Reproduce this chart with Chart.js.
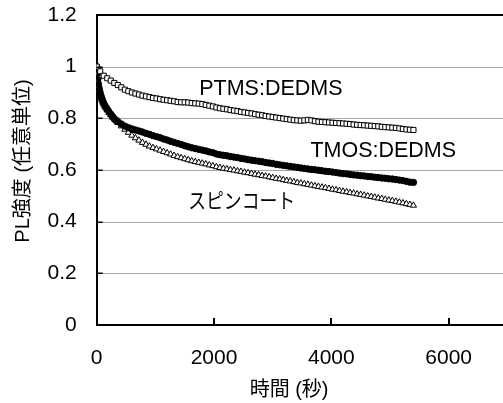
<!DOCTYPE html>
<html>
<head>
<meta charset="utf-8">
<script src="https://cdn.jsdelivr.net/npm/chart.js@4/dist/chart.umd.min.js"></script>
<style>
  html, body { margin: 0; padding: 0; background: #fff; overflow: hidden; }
  #wrap { width: 520px; height: 403px; }
</style>
</head>
<body>
<div id="wrap"><canvas id="plCanvas" width="520" height="403"></canvas></div>
<script>
// time in seconds (PTMS sampled every 60 s)
var times = [
  0,60,120,180,240,300,360,420,480,540,
  600,660,720,780,840,900,960,1020,1080,1140,
  1200,1260,1320,1380,1440,1500,1560,1620,1680,1740,
  1800,1860,1920,1980,2040,2100,2160,2220,2280,2340,
  2400,2460,2520,2580,2640,2700,2760,2820,2880,2940,
  3000,3060,3120,3180,3240,3300,3360,3420,3480,3540,
  3600,3660,3720,3780,3840,3900,3960,4020,4080,4140,
  4200,4260,4320,4380,4440,4500,4560,4620,4680,4740,
  4800,4860,4920,4980,5040,5100,5160,5220,5280,5340,
  5400
];

// TMOS and spin coat: denser at the start
var timesFast = [
  0,10,20,30,40,50,60,75,90,105,
  120,140,160,180,210,240,270,300,330,360,
  420,480,540,
  600,660,720,780,840,900,960,1020,1080,1140,
  1200,1260,1320,1380,1440,1500,1560,1620,1680,1740,
  1800,1860,1920,1980,2040,2100,2160,2220,2280,2340,
  2400,2460,2520,2580,2640,2700,2760,2820,2880,2940,
  3000,3060,3120,3180,3240,3300,3360,3420,3480,3540,
  3600,3660,3720,3780,3840,3900,3960,4020,4080,4140,
  4200,4260,4320,4380,4440,4500,4560,4620,4680,4740,
  4800,4860,4920,4980,5040,5100,5160,5220,5280,5340,
  5400
];

var ptms = [
  1.000,0.982,0.965,0.955,0.946,0.937,0.929,0.920,0.911,0.905,
  0.900,0.896,0.892,0.888,0.885,0.882,0.879,0.877,0.874,0.872,
  0.870,0.868,0.866,0.863,0.862,0.862,0.861,0.859,0.858,0.857,
  0.855,0.852,0.849,0.846,0.842,0.839,0.837,0.835,0.832,0.830,
  0.828,0.825,0.823,0.821,0.819,0.816,0.814,0.812,0.809,0.807,
  0.805,0.803,0.801,0.799,0.797,0.795,0.793,0.792,0.791,0.792,
  0.794,0.792,0.789,0.787,0.786,0.785,0.784,0.783,0.782,0.781,
  0.780,0.779,0.778,0.776,0.775,0.774,0.773,0.772,0.771,0.770,
  0.769,0.767,0.766,0.765,0.764,0.763,0.761,0.759,0.757,0.756,
  0.755
];

var tmos = [
  1.000,0.975,0.950,0.932,0.918,0.906,0.897,0.886,0.876,0.866,
  0.858,0.849,0.842,0.835,0.825,0.816,0.807,0.799,0.793,0.787,
  0.778,0.770,0.764,
  0.759,0.755,0.751,0.747,0.742,0.738,0.733,0.729,0.725,0.720,
  0.716,0.711,0.707,0.703,0.699,0.694,0.690,0.686,0.683,0.680,
  0.677,0.674,0.670,0.667,0.662,0.659,0.657,0.655,0.652,0.650,
  0.648,0.645,0.643,0.640,0.638,0.636,0.634,0.632,0.629,0.627,
  0.625,0.622,0.620,0.618,0.616,0.614,0.612,0.610,0.608,0.606,
  0.604,0.602,0.601,0.599,0.597,0.595,0.594,0.592,0.590,0.588,
  0.586,0.585,0.583,0.581,0.580,0.578,0.577,0.575,0.574,0.572,
  0.571,0.569,0.568,0.566,0.565,0.563,0.561,0.559,0.556,0.553,
  0.552
];

var spin = [
  1.000,0.972,0.945,0.925,0.910,0.898,0.889,0.878,0.870,0.862,
  0.855,0.846,0.839,0.832,0.822,0.813,0.804,0.797,0.790,0.783,
  0.770,0.757,0.745,
  0.734,0.724,0.715,0.706,0.699,0.692,0.686,0.681,0.676,0.671,
  0.666,0.661,0.656,0.651,0.647,0.643,0.639,0.635,0.632,0.629,
  0.626,0.623,0.619,0.616,0.612,0.609,0.606,0.604,0.601,0.599,
  0.596,0.594,0.591,0.589,0.586,0.583,0.581,0.578,0.576,0.573,
  0.570,0.567,0.565,0.562,0.559,0.557,0.554,0.551,0.549,0.546,
  0.544,0.541,0.538,0.536,0.533,0.531,0.528,0.525,0.523,0.520,
  0.517,0.515,0.512,0.510,0.507,0.505,0.502,0.499,0.497,0.494,
  0.491,0.489,0.486,0.483,0.481,0.478,0.475,0.472,0.469,0.466,
  0.463
];

var seriesNames = ["PTMS:DEDMS", "TMOS:DEDMS", "スピンコート"];
var xTicks = [0, 2000, 4000, 6000, 7000];
var yTicks = [0, 0.2, 0.4, 0.6, 0.8, 1, 1.2];
var xTitle = "時間 (秒)";
var yTitle = "PL強度 (任意単位)";

var FONT = "'Liberation Sans', Arial, 'Noto Sans CJK JP', sans-serif";

function toPoints(ts, vals) {
  return ts.map(function (t, i) { return { x: t, y: vals[i] }; });
}

// grid lines as thin filled bars; 'mode' is the composite operation
function paintGrid(chart, mode) {
  var ctx = chart.ctx;
  var yScale = chart.scales.y;
  var area = chart.chartArea;
  ctx.save();
  ctx.globalAlpha = 1;
  ctx.globalCompositeOperation = mode;
  for (var i = 1; i < yTicks.length; i++) {
    var py = Math.round(yScale.getPixelForValue(yTicks[i]));
    if (i === yTicks.length - 1) {
      ctx.fillStyle = '#000000';
      ctx.fillRect(area.left, py - 1, area.right - area.left, 2);
    } else {
      ctx.fillStyle = '#a6a6a6';
      ctx.fillRect(area.left, py, area.right - area.left, 1);
    }
  }
  ctx.restore();
}

// text labels placed in data coordinates, axis titles, grid and inner tick marks
var textPlugin = {
  id: 'plText',
  afterDraw: function (chart) {
    var ctx = chart.ctx;
    var xScale = chart.scales.x, yScale = chart.scales.y;
    var area = chart.chartArea;

    // grid behind everything already drawn
    paintGrid(chart, 'destination-over');
    var probeY = Math.round(yScale.getPixelForValue(yTicks[1]));
    var px0 = ctx.getImageData(Math.round(area.left + 300), probeY, 1, 1).data;
    if (px0[3] < 50 || px0[0] > 230) {
      paintGrid(chart, 'source-over');
    }

    ctx.save();
    ctx.globalAlpha = 1;
    ctx.globalCompositeOperation = 'source-over';

    // inner tick marks
    ctx.fillStyle = '#000000';
    for (var i = 1; i < xTicks.length; i++) {
      if (xTicks[i] > 6000) continue;
      var tx = Math.round(xScale.getPixelForValue(xTicks[i]));
      ctx.fillRect(tx - 1, area.bottom - 7, 2, 7);
    }
    for (var j = 1; j < yTicks.length - 1; j++) {
      var ty = Math.round(yScale.getPixelForValue(yTicks[j]));
      ctx.fillRect(area.left, ty - 0.5, 6, 1.5);
    }

    // series labels
    ctx.fillStyle = '#000';
    ctx.textAlign = 'center';
    ctx.textBaseline = 'middle';
    ctx.font = "21.5px " + FONT;
    ctx.fillText(seriesNames[0], xScale.getPixelForValue(2970), yScale.getPixelForValue(0.912));
    ctx.fillText(seriesNames[1], xScale.getPixelForValue(4885), yScale.getPixelForValue(0.674));
    ctx.font = "21px " + FONT;
    ctx.fillText(seriesNames[2], xScale.getPixelForValue(2472), yScale.getPixelForValue(0.474), 107);

    // axis titles
    ctx.font = "20px " + FONT;
    ctx.fillText(xTitle, xScale.getPixelForValue(3280), 390);
    ctx.translate(23, yScale.getPixelForValue(0.635));
    ctx.rotate(-Math.PI / 2);
    ctx.fillText(yTitle, 0, 0);
    ctx.restore();
  }
};

var chartConfig = {
  type: 'scatter',
  data: {
    datasets: [{
      label: seriesNames[0],
      data: toPoints(times, ptms),
      pointStyle: 'rect',
      pointRadius: 3.6,
      backgroundColor: '#fff',
      borderColor: '#000',
      borderWidth: 1
    }, {
      label: seriesNames[1],
      data: toPoints(timesFast, tmos),
      pointStyle: 'circle',
      pointRadius: 3.2,
      backgroundColor: '#000',
      borderColor: '#000',
      borderWidth: 1
    }, {
      label: seriesNames[2],
      data: toPoints(timesFast, spin),
      pointStyle: 'triangle',
      pointRadius: 3.6,
      backgroundColor: '#fff',
      borderColor: '#000',
      borderWidth: 1
    }]
  },
  options: {
    responsive: false,
    animation: false,
    events: [],
    layout: { padding: { left: 0, top: 15, right: 12.7, bottom: 0 } },
    plugins: {
      legend: { display: false },
      tooltip: { enabled: false }
    },
    scales: {
      x: {
        type: 'linear',
        min: 0,
        max: 7000,
        afterBuildTicks: function (s) {
          s.ticks = xTicks.map(function (v) { return { value: v }; });
        },
        afterFit: function (s) {
          s.height = 78;
          s.paddingLeft = 0;
          s.paddingRight = 0;
        },
        border: { color: '#000', width: 2 },
        grid: { display: false, drawTicks: false },
        ticks: {
          padding: 21,
          color: '#000',
          font: { family: FONT, size: 21 },
          maxRotation: 0,
          autoSkip: false,
          callback: function (v) { return v <= 6000 ? String(v) : ''; }
        }
      },
      y: {
        min: 0,
        max: 1.2,
        afterBuildTicks: function (s) {
          s.ticks = yTicks.map(function (v) { return { value: v }; });
        },
        afterFit: function (s) {
          s.width = 96.7;
          s.paddingTop = 0;
          s.paddingBottom = 0;
        },
        border: { color: '#000', width: 2 },
        grid: { display: false, drawTicks: false },
        ticks: {
          padding: 20,
          color: '#000',
          autoSkip: false,
          font: { family: FONT, size: 21 },
          callback: function (v) { return String(v); }
        }
      }
    }
  },
  plugins: [textPlugin]
};

new Chart(document.getElementById('plCanvas'), chartConfig);
</script>
</body>
</html>
